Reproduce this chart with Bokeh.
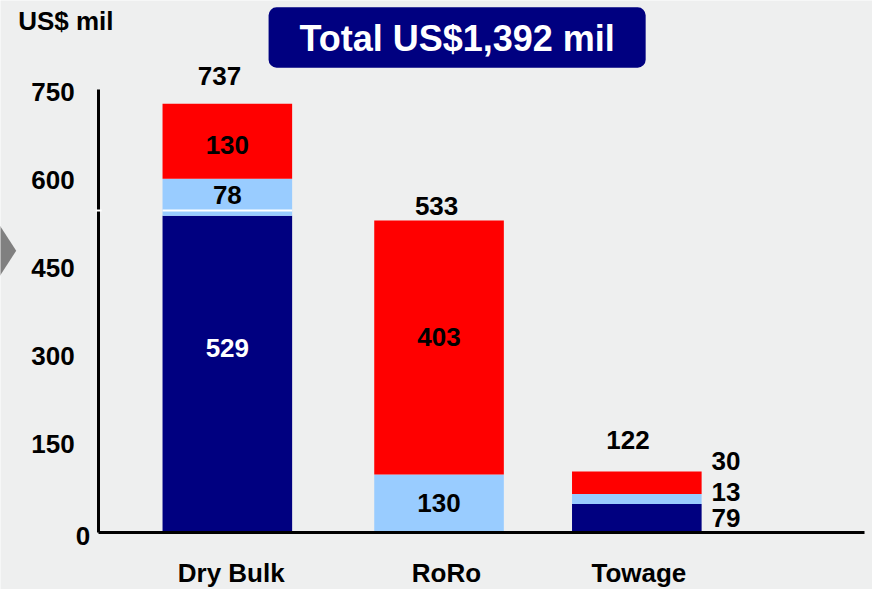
from bokeh.plotting import figure
from bokeh.models import (Range1d, FixedTicker, BoxAnnotation, Label, PolyAnnotation,
                          ColumnDataSource)
from bokeh.core.properties import value
from bokeh.embed import file_html
from bokeh.resources import INLINE

# ---------------- data ----------------
categories = ["Dry Bulk", "RoRo", "Towage"]
# segment heights as drawn (US$ mil)
navy_vals = [539, 0, 48]
lightblue_vals = [63, 98, 17]
red_vals = [128, 433, 38]
# printed value labels
total_labels = ["737", "533", "122"]
navy_labels = ["529", "", "79"]
lightblue_labels = ["78", "130", "13"]
red_labels = ["130", "403", "30"]
y_ticks = [0, 150, 300, 450, 600, 750]
title_text = "Total US$1,392 mil"
unit_text = "US$ mil"
break_line_value = 548

# ---------------- layout / style ----------------
FONT = "Liberation Sans"
NAVY, LBLUE, RED = "#000080", "#99ccff", "#ff0000"
BG = "#eeefef"
bar_x = [1.0, 2.034, 3.0]
label_x = [1.019, 2.07, 3.01]
bar_w = 0.633

W, H = 872, 589          # figure size
REF_W, REF_H = 888, 605  # reference design grid
REF_X_UNIT = 208.5       # reference px per category unit
REF_Y_UNIT = 0.6027      # reference px per US$ mil
REF_X1, REF_Y0 = 231, 546  # reference px of x=1 and y=0


def px2x(rx):
    return 1 + (rx - REF_X1) / REF_X_UNIT


def px2y(ry):
    return (REF_Y0 - ry) / REF_Y_UNIT


S = W / REF_W  # pixel scale

p = figure(width=W, height=H, output_backend="svg", toolbar_location=None,
           x_range=Range1d(px2x(0), px2x(REF_W)), y_range=Range1d(px2y(REF_H), px2y(0)),
           min_border=0, background_fill_color=BG, border_fill_color=BG,
           outline_line_color=None)
p.grid.visible = False

# axes (drawn inside the frame at fixed locations)
for ax in (p.xaxis[0], p.yaxis[0]):
    ax.axis_line_width = 3
    ax.axis_line_color = "black"
    ax.major_tick_line_color = None
    ax.minor_tick_line_color = None
    ax.major_label_text_font = FONT
    ax.major_label_text_font_style = "bold"
    ax.major_label_text_font_size = "26px"
    ax.major_label_text_color = "black"

p.yaxis.fixed_location = px2x(100)
p.yaxis.ticker = FixedTicker(ticks=y_ticks)
p.yaxis.bounds = (0, 755)
p.yaxis.major_label_standoff = 18
p.yaxis.major_label_overrides = {0: ""}
p.xaxis.fixed_location = 0
p.xaxis.bounds = (px2x(100), px2x(880))
p.xaxis.ticker = FixedTicker(ticks=label_x)
p.xaxis.major_label_overrides = {lx: c for lx, c in zip(label_x, categories)}
p.xaxis.major_label_standoff = 20

# the "0" tick label sits a little to the right in the original
p.add_layout(Label(x=px2x(84), y=y_ticks[0], y_offset=-4 * S, text=str(y_ticks[0]),
                   text_align="center", text_baseline="middle", text_color="black",
                   text_font=FONT, text_font_style="bold", text_font_size="26px"))

# bars
src = ColumnDataSource(dict(x=bar_x, navy=navy_vals, lightblue=lightblue_vals, red=red_vals))
p.vbar_stack(["navy", "lightblue", "red"], x="x", width=bar_w, source=src,
             color=[NAVY, LBLUE, RED], line_color=None)

# white break line across the axis and through the first bar
p.segment(x0=[px2x(97), bar_x[0] - bar_w / 2], y0=[break_line_value] * 2,
          x1=[px2x(103), bar_x[0] + bar_w / 2], y1=[break_line_value] * 2,
          line_color="white", line_width=2, level="overlay")

# value labels
tops = [n + l + r for n, l, r in zip(navy_vals, lightblue_vals, red_vals)]
tot = ColumnDataSource(dict(x=bar_x, y=tops, t=total_labels,
                            xo=[-8 * S, -2.5 * S, -9 * S], yo=[-28 * S, -15 * S, -32 * S]))
p.text(x="x", y="y", text="t", x_offset="xo", y_offset="yo", source=tot,
       text_font=value(FONT), text_font_style="bold", text_font_size="26px",
       text_align="center", text_baseline="middle", text_color="black")

in_x, in_y, in_t, in_c, in_yo = [], [], [], [], []
side_x, side_y, side_t, side_yo = [], [], [], []
seg_offsets_in = {(0, 0): -26.5, (0, 1): -2, (0, 2): 3.5, (1, 1): 0, (1, 2): -11}
seg_offsets_side = {0: 0.5, 1: -7, 2: -22.5}
for i in range(len(categories)):
    base = 0
    for k, (vals, labs, col) in enumerate([(navy_vals, navy_labels, "white"),
                                           (lightblue_vals, lightblue_labels, "black"),
                                           (red_vals, red_labels, "black")]):
        mid = base + vals[i] / 2
        base += vals[i]
        if not labs[i]:
            continue
        if i < 2:
            in_x.append(bar_x[i]); in_y.append(mid); in_t.append(labs[i])
            in_c.append(col); in_yo.append(seg_offsets_in[(i, k)] * S)
        else:
            side_x.append(bar_x[i] + bar_w / 2); side_y.append(mid)
            side_t.append(labs[i]); side_yo.append(seg_offsets_side[k] * S)

p.text(x="x", y="y", text="t", y_offset="yo", text_color="c",
       source=ColumnDataSource(dict(x=in_x, y=in_y, t=in_t, c=in_c, yo=in_yo)),
       text_font=value(FONT), text_font_style="bold", text_font_size="26px",
       text_align="center", text_baseline="middle")
p.text(x="x", y="y", text="t", y_offset="yo", x_offset=10 * S,
       source=ColumnDataSource(dict(x=side_x, y=side_y, t=side_t, yo=side_yo)),
       text_font=value(FONT), text_font_style="bold", text_font_size="26px",
       text_align="left", text_baseline="middle", text_color="black")

# title box
p.add_layout(BoxAnnotation(left=px2x(273), right=px2x(657), top=px2y(7), bottom=px2y(69),
                           fill_color=NAVY, fill_alpha=1, line_color=None, border_radius=8))
p.add_layout(Label(x=px2x(465), y=px2y(39), text=title_text, text_align="center",
                   text_baseline="middle", text_color="white", text_font=FONT,
                   text_font_style="bold", text_font_size="36px"))

# unit label
p.add_layout(Label(x=px2x(18), y=px2y(21), text=unit_text, text_align="left",
                   text_baseline="middle", text_color="black", text_font=FONT,
                   text_font_style="bold", text_font_size="26px"))

# grey chevron at the left edge
p.add_layout(PolyAnnotation(xs=[px2x(-2), px2x(16), px2x(-2)],
                            ys=[px2y(229), px2y(257), px2y(285)],
                            fill_color="#808080", fill_alpha=1, line_color=None))

open("out.html", "w").write(file_html(p, INLINE))
